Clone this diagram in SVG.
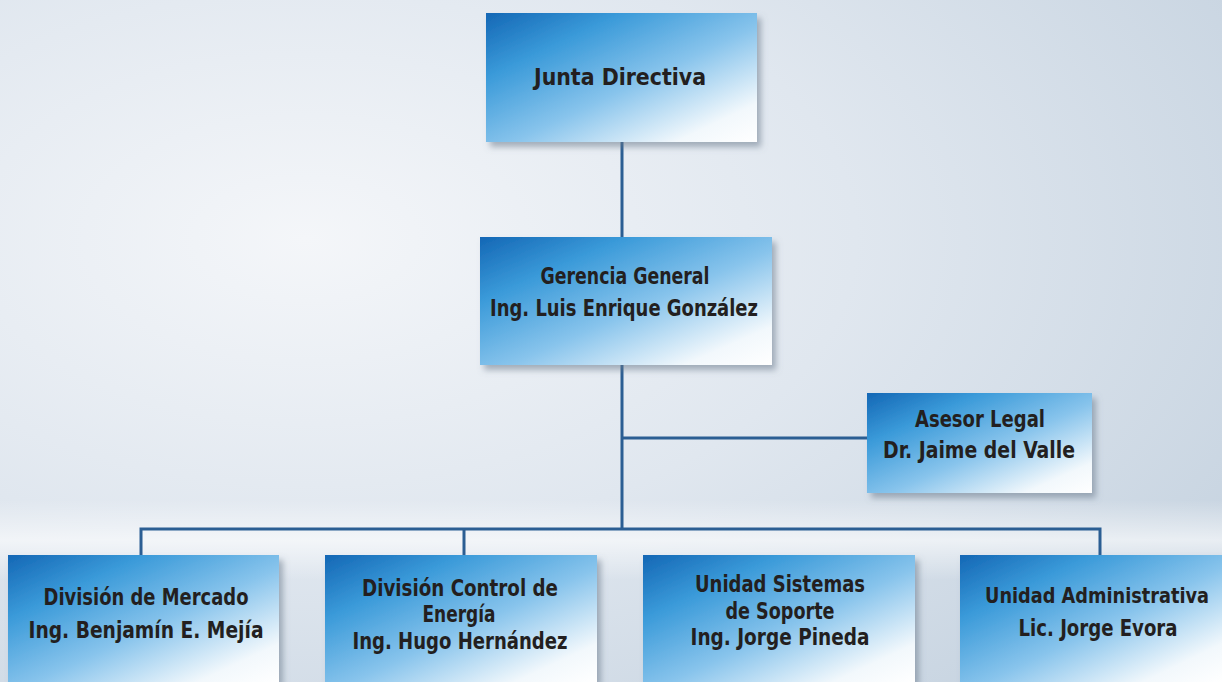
<svg xmlns="http://www.w3.org/2000/svg" width="1222" height="682" viewBox="0 0 1222 682">
<defs>
<radialGradient id="bg" cx="0.25" cy="0.35" r="0.9">
<stop offset="0" stop-color="#f4f6f9"/>
<stop offset="0.5" stop-color="#e0e7ef"/>
<stop offset="1" stop-color="#c6d3e0"/>
</radialGradient>
<linearGradient id="band" x1="0" y1="0" x2="0" y2="1">
<stop offset="0" stop-color="#ffffff" stop-opacity="0"/>
<stop offset="0.5" stop-color="#ffffff" stop-opacity="0.6"/>
<stop offset="1" stop-color="#ffffff" stop-opacity="0"/>
</linearGradient>
<linearGradient id="box" x1="0" y1="0" x2="1" y2="1">
<stop offset="0" stop-color="#1467b5"/>
<stop offset="0.25" stop-color="#3a9ad9"/>
<stop offset="0.55" stop-color="#88c4ec"/>
<stop offset="0.85" stop-color="#f2f8fc"/>
<stop offset="1" stop-color="#ffffff"/>
</linearGradient>
<filter id="sh" x="-10%" y="-10%" width="125%" height="130%">
<feDropShadow dx="4" dy="5" stdDeviation="3" flood-color="#6a7a8a" flood-opacity="0.55"/>
</filter>
</defs>
<style>
.box{fill:url(#box);filter:url(#sh)}
.t{font-family:"DejaVu Sans Condensed","Liberation Sans Narrow","Liberation Sans",sans-serif;font-weight:bold;font-size:23px;fill:#231f20;text-anchor:middle}
.s{font-size:21px}
.c{fill:none;stroke:#2b5e93;stroke-width:3}
</style>
<rect width="1222" height="682" fill="url(#bg)"/>
<rect x="0" y="500" width="1222" height="80" fill="url(#band)"/>
<g id="connectors">
<line class="c" x1="622" y1="142" x2="622" y2="237"/>
<line class="c" x1="622" y1="365" x2="622" y2="529"/>
<line class="c" x1="622" y1="438" x2="868" y2="438"/>
<polyline class="c" points="141,556 141,529 1100,529 1100,556"/>
<line class="c" x1="464" y1="529" x2="464" y2="556"/>
</g>
<g id="junta">
<rect class="box" x="486" y="13" width="271" height="129"/>
<text class="t" x="620" y="85" textLength="172" lengthAdjust="spacingAndGlyphs">Junta Directiva</text>
</g>
<g id="gerencia">
<rect class="box" x="480" y="237" width="292" height="128"/>
<text class="t" x="625" y="284" textLength="169" lengthAdjust="spacingAndGlyphs">Gerencia General</text>
<text class="t" x="624" y="316" textLength="268" lengthAdjust="spacingAndGlyphs">Ing. Luis Enrique González</text>
</g>
<g id="asesor">
<rect class="box" x="867" y="393" width="225" height="100"/>
<text class="t" x="980" y="427" textLength="130" lengthAdjust="spacingAndGlyphs">Asesor Legal</text>
<text class="t" x="979" y="458" textLength="192" lengthAdjust="spacingAndGlyphs">Dr. Jaime del Valle</text>
</g>
<g id="mercado">
<rect class="box" x="8" y="555" width="271" height="127"/>
<text class="t" x="146" y="605" textLength="205" lengthAdjust="spacingAndGlyphs">División de Mercado</text>
<text class="t" x="146" y="638" textLength="235" lengthAdjust="spacingAndGlyphs">Ing. Benjamín E. Mejía</text>
</g>
<g id="control">
<rect class="box" x="325" y="555" width="272" height="127"/>
<text class="t" x="460" y="596" textLength="196" lengthAdjust="spacingAndGlyphs">División Control de</text>
<text class="t" x="459" y="622" textLength="73" lengthAdjust="spacingAndGlyphs">Energía</text>
<text class="t" x="460" y="649" textLength="215" lengthAdjust="spacingAndGlyphs">Ing. Hugo Hernández</text>
</g>
<g id="sistemas">
<rect class="box" x="643" y="555" width="272" height="127"/>
<text class="t" x="780" y="592" textLength="170" lengthAdjust="spacingAndGlyphs">Unidad Sistemas</text>
<text class="t" x="780" y="619" textLength="109" lengthAdjust="spacingAndGlyphs">de Soporte</text>
<text class="t" x="780" y="645" textLength="179" lengthAdjust="spacingAndGlyphs">Ing. Jorge Pineda</text>
</g>
<g id="administrativa">
<rect class="box" x="960" y="555" width="262" height="127"/>
<text class="t s" x="1097" y="603" textLength="224" lengthAdjust="spacingAndGlyphs">Unidad Administrativa</text>
<text class="t" x="1098" y="636" textLength="159" lengthAdjust="spacingAndGlyphs">Lic. Jorge Evora</text>
</g>
</svg>
